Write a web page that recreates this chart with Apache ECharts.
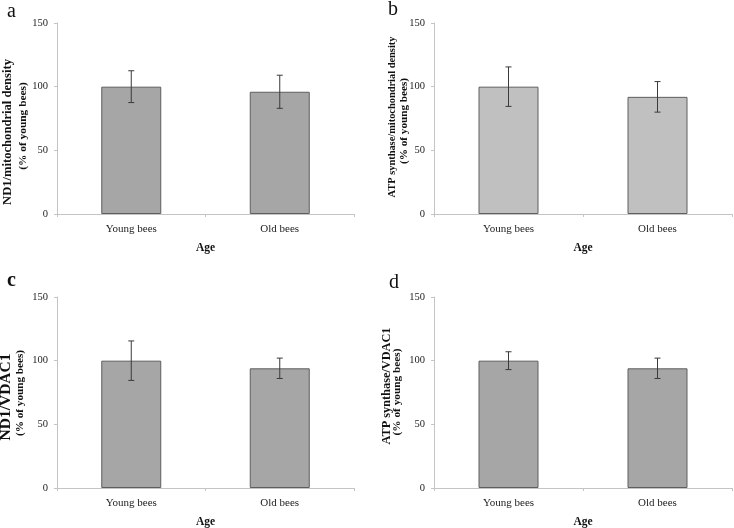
<!DOCTYPE html>
<html>
<head>
<meta charset="utf-8">
<script src="https://cdn.jsdelivr.net/npm/echarts@6/dist/echarts.min.js"></script>
<style>html,body{margin:0;padding:0;background:#fff}#c{width:734px;height:528px}</style>
</head>
<body>
<div id="c"></div>
<script>
var categories = ['Young bees', 'Old bees'];
var panelLetters = ['a', 'b', 'c', 'd'];
var yTitleLine1 = ['ND1/mitochondrial density', 'ATP synthase/mitochondrial density', 'ND1/VDAC1', 'ATP synthase/VDAC1'];
var yTitleLine2 = ['(% of young bees)', '(% of young bees)', '(% of young bees)', '(% of young bees)'];
var xTitle = 'Age';
var nd1Mito = [100, 96];
var nd1MitoErr = [12.5, 13];
var atpMito = [100, 92];
var atpMitoErr = [15.5, 12];
var nd1Vdac = [100, 94];
var nd1VdacErr = [15.5, 8];
var atpVdac = [100, 94];
var atpVdacErr = [7, 8];

var values = [nd1Mito, atpMito, nd1Vdac, atpVdac];
var errors = [nd1MitoErr, atpMitoErr, nd1VdacErr, atpVdacErr];

var FONT = 'Liberation Serif';
var grids = [
  {left: 57, top: 23, width: 297, height: 191, outerBoundsMode: 'none', containLabel: false},
  {left: 434, top: 23, width: 298, height: 191, outerBoundsMode: 'none', containLabel: false},
  {left: 57, top: 297, width: 297, height: 191, outerBoundsMode: 'none', containLabel: false},
  {left: 434, top: 297, width: 298, height: 191, outerBoundsMode: 'none', containLabel: false}
];
var barColors = ['#a6a6a6', '#c0c0c0', '#a6a6a6', '#a6a6a6'];

// y-title layout: [line1 x, line1 y, line1 size, line2 x, line2 y, line2 size]
var titleLayout = [
  [8, 132, 12.6, 23, 126, 11.4],
  [392, 117, 10.4, 404, 121, 11.2],
  [6, 397, 15.5, 20, 393, 11.2],
  [387, 386, 12.3, 397, 392, 11.3]
];

var xAxes = [], yAxes = [], series = [], graphics = [];
grids.forEach(function (g, i) {
  xAxes.push({
    type: 'category', gridIndex: i, data: categories,
    axisLine: {lineStyle: {color: '#c4c4c4', width: 1}},
    axisTick: {show: true, length: 3, lineStyle: {color: '#c4c4c4'}},
    axisLabel: {fontFamily: FONT, fontSize: 11, color: '#222', margin: 10},
    name: xTitle, nameLocation: 'middle', nameGap: 28,
    nameTextStyle: {fontFamily: FONT, fontSize: 11.5, fontWeight: 'bold', color: '#111'}
  });
  yAxes.push({
    type: 'value', gridIndex: i, min: 0, max: 150, interval: 50,
    axisLine: {show: true, lineStyle: {color: '#c4c4c4', width: 1}},
    axisTick: {show: true, length: 3, lineStyle: {color: '#c4c4c4'}},
    splitLine: {show: false},
    axisLabel: {fontFamily: FONT, fontSize: 10.5, color: '#222', margin: 9}
  });
  series.push({
    type: 'bar', xAxisIndex: i, yAxisIndex: i, data: values[i], barWidth: 60,
    itemStyle: {color: barColors[i], borderColor: '#5e5e5e', borderWidth: 1},
    silent: true, z: 2
  });
  var errData = values[i].map(function (v, k) { return [k, v, errors[i][k]]; });
  series.push({
    type: 'custom', xAxisIndex: i, yAxisIndex: i, data: errData, z: 5, silent: true,
    renderItem: function (params, api) {
      var x = api.value(0), v = api.value(1), e = api.value(2);
      var hi = api.coord([x, v + e]);
      var lo = api.coord([x, v - e]);
      var st = {stroke: '#3a3a3a', lineWidth: 1};
      return {type: 'group', children: [
        {type: 'line', shape: {x1: hi[0], y1: hi[1], x2: lo[0], y2: lo[1]}, style: st},
        {type: 'line', shape: {x1: hi[0] - 3, y1: hi[1], x2: hi[0] + 3, y2: hi[1]}, style: st},
        {type: 'line', shape: {x1: lo[0] - 3, y1: lo[1], x2: lo[0] + 3, y2: lo[1]}, style: st}
      ]};
    }
  });
  var t = titleLayout[i];
  graphics.push({
    type: 'text', x: t[0], y: t[1], rotation: Math.PI / 2, silent: true,
    style: {text: yTitleLine1[i], fontFamily: FONT, fontSize: t[2], fontWeight: 'bold', fill: '#111',
      align: 'center', verticalAlign: 'middle'}
  });
  graphics.push({
    type: 'text', x: t[3], y: t[4], rotation: Math.PI / 2, silent: true,
    style: {text: yTitleLine2[i], fontFamily: FONT, fontSize: t[5], fontWeight: 'bold', fill: '#111',
      align: 'center', verticalAlign: 'middle'}
  });
});

var letterPos = [[7, 2], [388, 0], [7, 271], [389, 273]];
var letterSize = [20, 20, 20, 20];
panelLetters.forEach(function (l, i) {
  graphics.push({
    type: 'text', left: letterPos[i][0], top: letterPos[i][1], silent: true,
    style: {text: l, fontFamily: FONT, fontSize: letterSize[i], fontWeight: i === 2 ? 'bold' : 'normal', fill: '#111'}
  });
});

var chart = echarts.init(document.getElementById('c'), null, {renderer: 'canvas'});
chart.setOption({
  animation: false,
  backgroundColor: '#fff',
  grid: grids,
  xAxis: xAxes,
  yAxis: yAxes,
  series: series,
  graphic: graphics
});
</script>
</body>
</html>
